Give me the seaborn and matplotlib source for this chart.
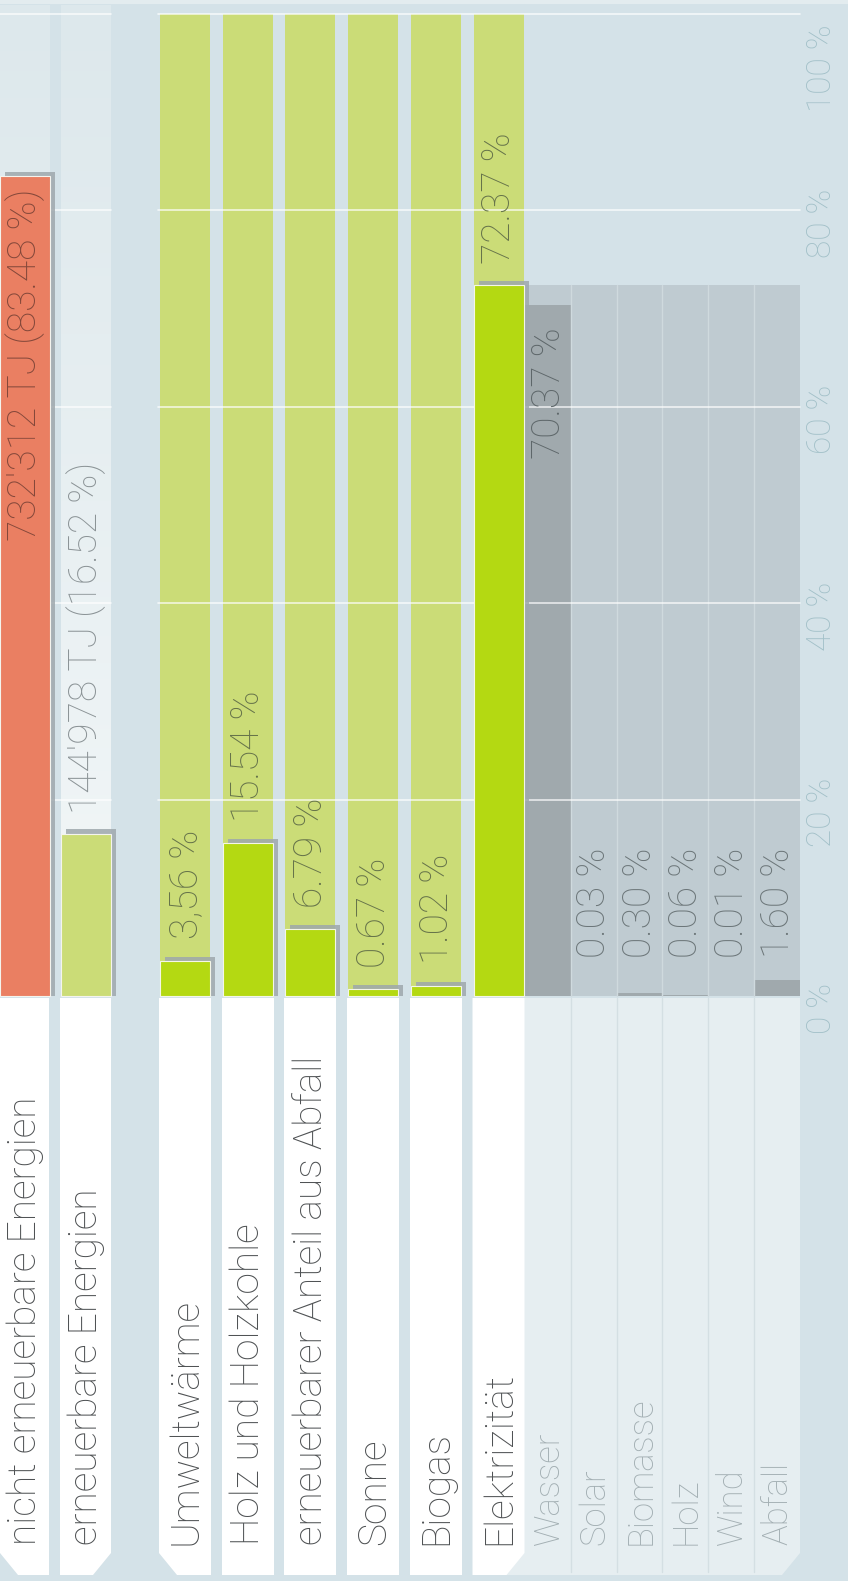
import numpy as np
import pandas as pd
import matplotlib
matplotlib.use("Agg")
import matplotlib.pyplot as plt
import seaborn as sns
from matplotlib.patches import Rectangle, Polygon

# ---------------- data ----------------
total_labels = ["nicht erneuerbare Energien", "erneuerbare Energien"]
total_values = [83.48, 16.52]
total_texts = ["732'312 TJ (83.48 %)", "144'978 TJ (16.52 %)"]

ren_labels = ["Umweltwärme", "Holz und Holzkohle", "erneuerbarer Anteil aus Abfall",
              "Sonne", "Biogas", "Elektrizität"]
ren_values = [3.56, 15.54, 6.79, 0.67, 1.02, 72.37]
ren_texts = ["3,56 %", "15.54 %", "6.79 %", "0.67 %", "1.02 %", "72.37 %"]

elec_labels = ["Wasser", "Solar", "Biomasse", "Holz", "Wind", "Abfall"]
elec_values = [70.37, 0.03, 0.30, 0.06, 0.01, 1.60]
elec_texts = ["70.37 %", "0.03 %", "0.30 %", "0.06 %", "0.01 %", "1.60 %"]

tick_values = [0, 20, 40, 60, 80, 100]
tick_labels = ["0 %", "20 %", "40 %", "60 %", "80 %", "100 %"]

# ---------------- style ----------------
BG = "#d4e2e8"
RED = "#ea7f62"
LGREEN = "#cbdc77"
GREEN = "#b4d912"
SHADOW = "#9ea8ac"
SUBBG = "#bfcbd1"
SUBBAR = "#a0a9ad"
LABELBG = "#e6eef1"

sns.set_theme(style="white")
plt.rcParams["font.family"] = ["Roboto", "DejaVu Sans"]
FW = "light"

W, H = 848, 1581
fig = plt.figure(figsize=(W / 100, H / 100), dpi=100)
fig.patch.set_facecolor(BG)
ax = fig.add_axes([0, 0, 1, 1])
ax.set_facecolor(BG)

Y0, PPU = 996.0, 9.82          # pixel row of 0 %, pixels per percent


def P(ypix):
    return (Y0 - ypix) / PPU


# layout (pixel columns)
total_centers = np.array([24.5, 85.5])
total_step = 61.0
ren_step = 62.7
ren_centers = 185.0 + ren_step * np.arange(len(ren_labels))
elec_step = 45.8
elec_left = 525.0
elec_centers = elec_left + elec_step * (np.arange(len(elec_labels)) + 0.5)
BW = 50.0

# top light strip
ax.add_patch(Rectangle((0, P(4)), W, P(0) - P(4), color="#e3ecef", zorder=0.2, lw=0))

# gradient backgrounds of the first two columns
grad = np.linspace(0, 1, 256).reshape(-1, 1)
cmap_g = matplotlib.colors.LinearSegmentedColormap.from_list("g", ["#f3f7f8", "#dde8ec"])
for c in total_centers:
    ax.imshow(grad, extent=(c - BW / 2, c + BW / 2, 0, P(5)), origin="lower",
              cmap=cmap_g, aspect="auto", zorder=0.5)

# light green 100 % columns
sns.barplot(x=ren_centers, y=[100] * len(ren_centers), native_scale=True, orient="x",
            width=BW / ren_step, color=LGREEN, saturation=1, errorbar=None,
            linewidth=0, zorder=1, ax=ax)

# grey background of electricity breakdown, up to the electricity share
ax.add_patch(Rectangle((elec_left, 0), elec_step * len(elec_labels), ren_values[-1],
                       color=SUBBG, lw=0, zorder=1))

# electricity breakdown bars
sns.barplot(x=elec_centers, y=elec_values, native_scale=True, orient="x",
            width=1.0, color=SUBBAR, saturation=1, errorbar=None,
            linewidth=0, zorder=1.6, ax=ax)

# sub-column dividers
for k in range(1, len(elec_labels)):
    xk = elec_left + k * elec_step
    ax.plot([xk, xk], [0, ren_values[-1]], color="#cfdade", lw=1.0, zorder=1.8)

# gridlines
for t in tick_values[1:]:
    ax.plot([0, 111], [t, t], color="white", lw=1.2, alpha=0.75, zorder=2)
    ax.plot([158, 800], [t, t], color="white", lw=1.2, alpha=0.75, zorder=2)

# shadows of main bars
for c, v in zip(list(total_centers) + list(ren_centers), total_values + ren_values):
    ax.add_patch(Rectangle((c - BW / 2 + 5, 0), BW, v + 0.45, color=SHADOW, alpha=0.85,
                           lw=0, zorder=3))

# main bars
sns.barplot(x=total_centers, y=total_values, hue=total_labels, palette=[RED, LGREEN],
            native_scale=True, orient="x", width=BW / total_step, saturation=1,
            errorbar=None, legend=False, edgecolor="#f4f4ee", linewidth=0.8, zorder=4, ax=ax)
sns.barplot(x=ren_centers, y=ren_values, native_scale=True, orient="x",
            width=BW / ren_step, color=GREEN, saturation=1, errorbar=None,
            edgecolor="#f4f6e8", linewidth=0.8, zorder=4, ax=ax)

# ---------------- value labels ----------------
FS = 28
ax.text(total_centers[0] + 1, total_values[0] - 1.2, total_texts[0], rotation=90,
        ha="center", va="top", fontsize=FS, color="#84483a", fontweight=FW, zorder=6)
ax.text(total_centers[1] + 1, total_values[1] + 2.0, total_texts[1], rotation=90,
        ha="center", va="bottom", fontsize=FS, color="#8b9396", fontweight=FW, zorder=6)
for c, v, t in zip(ren_centers, ren_values, ren_texts):
    ax.text(c + 1, v + 2.2, t, rotation=90, ha="center", va="bottom", fontsize=FS,
            color="#66734a", fontweight=FW, zorder=6)
for i, (c, v, t) in enumerate(zip(elec_centers, elec_values, elec_texts)):
    if v > 50:
        ax.text(c + 1, v - 2.3, t, rotation=90, ha="center", va="top", fontsize=FS,
                color="#5e676a", fontweight=FW, zorder=6)
    else:
        ax.text(c + 1, max(v, 1.6) + 2.3, t, rotation=90, ha="center", va="bottom",
                fontsize=FS, color="#6c7679", fontweight=FW, zorder=6)

# ---------------- category label boxes ----------------
yt, yb, ych = P(998), P(1575), P(1553)
CH = 18


def box(x0, x1, left=False, right=False, color="white", z=3):
    pts = [(x0, yt), (x1, yt)]
    if right:
        pts += [(x1, ych), (x1 - CH, yb)]
    else:
        pts += [(x1, yb)]
    if left:
        pts += [(x0 + CH, yb), (x0, ych)]
    else:
        pts += [(x0, yb)]
    ax.add_patch(Polygon(pts, closed=True, color=color, lw=0, zorder=z))


box(0, 49, left=True)
box(60, 111, right=True)
box(505, 800, right=True, color=LABELBG, z=2.5)
for k, c in enumerate(ren_centers):
    box(c - BW / 2 - 1, c + BW / 2 + 1, left=(k == 0), right=(k == len(ren_centers) - 1))
for k in range(1, len(elec_labels)):
    xk = elec_left + k * elec_step
    ax.plot([xk, xk], [yt, yb + 0.3], color="#d4dfe3", lw=1.0, zorder=2.7)

ylab = P(1545)
for c, t in zip(total_centers, total_labels):
    ax.text(c + 1, ylab, t, rotation=90, ha="center", va="bottom", fontsize=FS,
            color="#4e5153", fontweight=FW, zorder=6)
for c, t in zip(ren_centers, ren_labels):
    ax.text(c + 1, ylab, t, rotation=90, ha="center", va="bottom", fontsize=FS,
            color="#4e5153", fontweight=FW, zorder=6)
for c, t in zip(elec_centers, elec_labels):
    ax.text(c + 1, ylab, t, rotation=90, ha="center", va="bottom", fontsize=FS - 3,
            color="#a3afb3", fontweight=FW, zorder=6)

# ---------------- percent axis ----------------
for v, t in zip(tick_values, tick_labels):
    yc = min(v - 1.3, P(68))
    ax.text(822, yc, t, rotation=90, ha="center", va="center", fontsize=24,
            color="#a2c0c8", fontweight=FW, zorder=6)

ax.set_xlim(0, W)
ax.set_ylim(P(H), P(0))
ax.axis("off")
fig.savefig("out.png", dpi=100, facecolor=fig.get_facecolor())
